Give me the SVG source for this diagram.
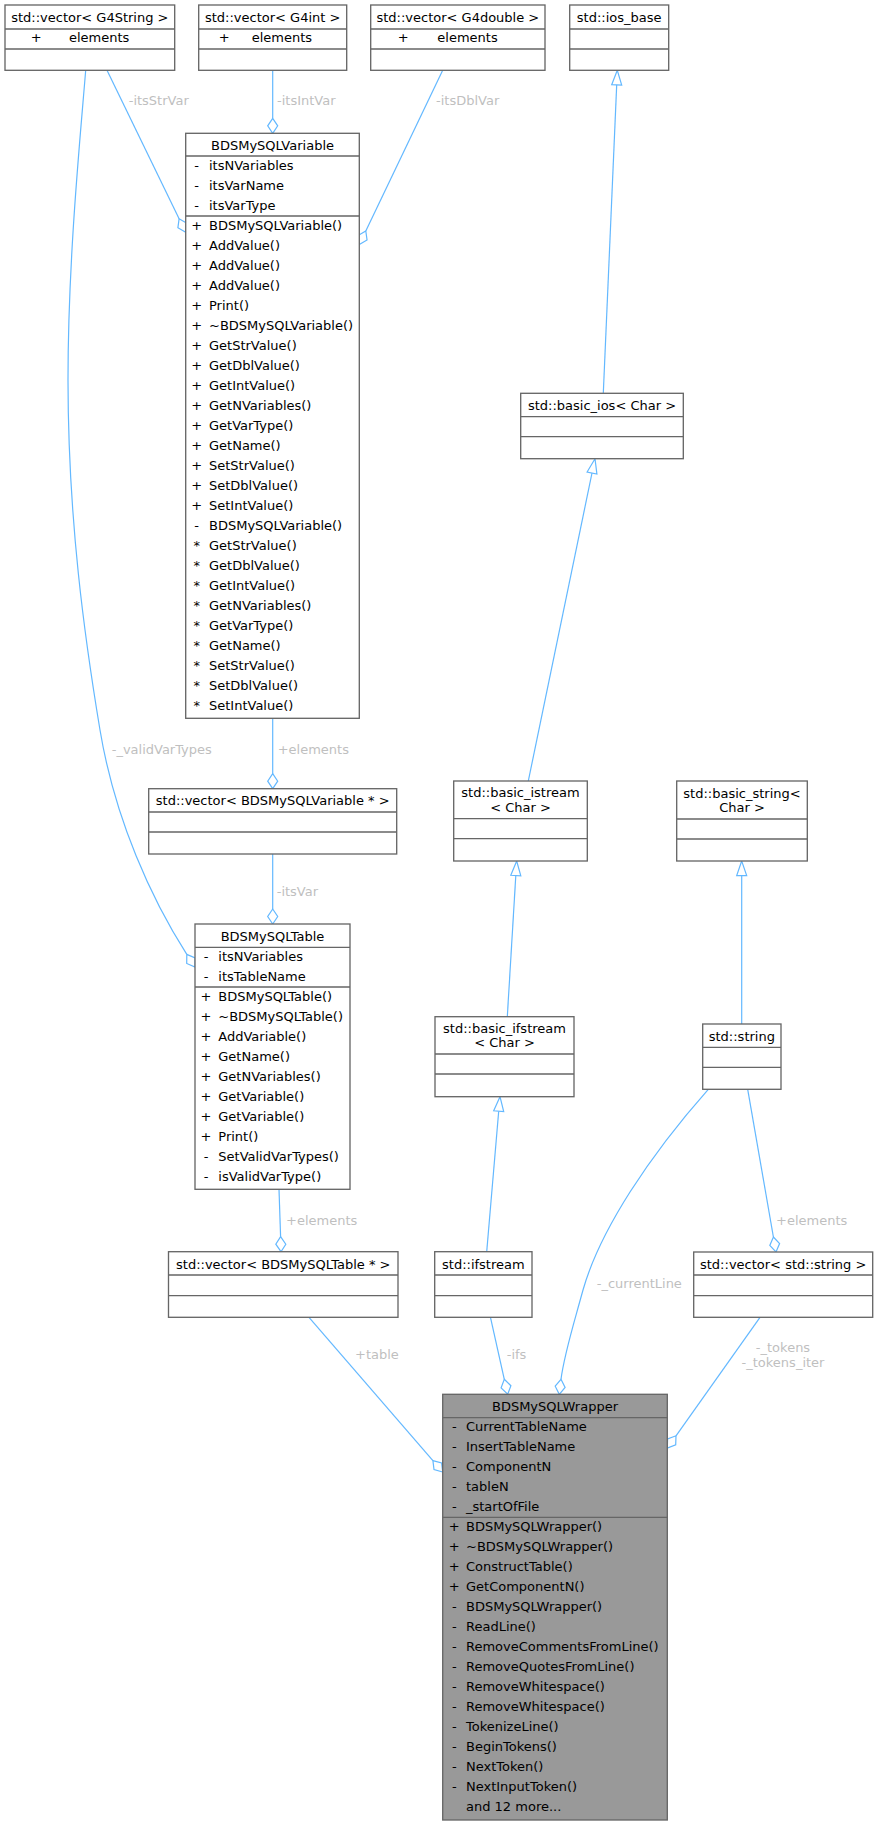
<svg xmlns="http://www.w3.org/2000/svg" width="878" height="1825" viewBox="0 0 878 1825">
<style>
text{font-family:"DejaVu Sans","Liberation Sans",sans-serif;font-size:13px;fill:#000}
.c{text-anchor:middle}
.m{text-anchor:middle}
.lbl{fill:#bfbfbf}
.box{fill:#fff;stroke:#666;stroke-width:1.33}
.main{fill:#999;stroke:#666;stroke-width:1.33}
.dv{stroke:#666;stroke-width:1.33;fill:none}
.edge{fill:none;stroke:#63b8ff;stroke-width:1.2}
.head{fill:#fff;stroke:#63b8ff;stroke-width:1.2}
</style>
<rect width="878" height="1825" fill="#fff"/>

<g id="connectors">
  <!-- inheritance -->
  <path class="edge" d="M616.7,84.9 L603.3,393.3"/>
  <polygon class="head" points="617.3,70.3 611.7,84.7 621.7,85.1"/>
  <path class="edge" d="M592,473 L528.3,781"/>
  <polygon class="head" points="595,458.7 596.9,474 587.1,472"/>
  <path class="edge" d="M515.8,875.6 L507.3,1016.7"/>
  <polygon class="head" points="516.7,861 510.8,875.3 520.8,875.9"/>
  <path class="edge" d="M498.7,1111.2 L486.7,1251.7"/>
  <polygon class="head" points="500,1096.7 493.7,1110.8 503.7,1111.6"/>
  <path class="edge" d="M741.7,875.6 L741.7,1024"/>
  <polygon class="head" points="741.7,861 736.7,875.6 746.7,875.6"/>

  <!-- aggregation -->
  <path class="edge" d="M272.7,70.3 L272.7,118.3"/>
  <polygon class="head" points="272.7,118.3 277.7,125.8 272.7,133.3 267.7,125.8"/>
  <path class="edge" d="M107,70.3 L179.1,218.8"/>
  <polygon class="head" points="179.1,218.8 186.9,223.35 185.7,232.3 177.9,227.75"/>
  <path class="edge" d="M442.7,70.3 L365.8,231"/>
  <polygon class="head" points="365.8,231 367.05,239.92 359.3,244.5 358.05,235.58"/>
  <path class="edge" d="M85.7,70.3 C80,140 68,260 68,380 C68,520 85,640 100,730 C115,820 152,900 186.8,954.4"/>
  <polygon class="head" points="186.8,954.4 195.09,957.97 195,967 186.71,963.43"/>
  <path class="edge" d="M272.7,718.3 L272.7,773.7"/>
  <polygon class="head" points="272.7,773.7 277.7,781.2 272.7,788.7 267.7,781.2"/>
  <path class="edge" d="M272.7,854 L272.7,909"/>
  <polygon class="head" points="272.7,909 277.7,916.5 272.7,924 267.7,916.5"/>
  <path class="edge" d="M279,1189.3 L280.6,1236.7"/>
  <polygon class="head" points="280.6,1236.7 285.8,1244.2 281,1251.7 275.8,1244.2"/>
  <path class="edge" d="M309,1317.3 L432.9,1460.6"/>
  <polygon class="head" points="432.9,1460.6 441.59,1463.04 442.7,1472 434.01,1469.56"/>
  <path class="edge" d="M490.3,1316.7 L504.3,1379.3"/>
  <polygon class="head" points="504.3,1379.3 510.9,1385.7 507.7,1394.3 501.1,1387.9"/>
  <path class="edge" d="M708.3,1089.3 C650,1155 600,1230 583,1290 C572,1330 564,1355 561,1379.3"/>
  <polygon class="head" points="561,1379.3 565.1,1387.4 559.3,1394.3 555.2,1386.2"/>
  <path class="edge" d="M747.7,1089.3 L773.4,1237"/>
  <polygon class="head" points="773.4,1237 779.6,1243.6 776,1252 769.8,1245.4"/>
  <path class="edge" d="M760,1317.3 L676,1435.8"/>
  <polygon class="head" points="676,1435.8 675.7,1444.8 667.3,1448 667.6,1439"/>

  <!-- labels -->
  <text class="lbl" x="128.7" y="104.5">-itsStrVar</text>
  <text class="lbl" x="277" y="104.5">-itsIntVar</text>
  <text class="lbl" x="436" y="104.5">-itsDblVar</text>
  <text class="lbl" x="111.7" y="753.5">-_validVarTypes</text>
  <text class="lbl" x="277.7" y="753.5">+elements</text>
  <text class="lbl" x="276.7" y="896.2">-itsVar</text>
  <text class="lbl" x="286" y="1224.5">+elements</text>
  <text class="lbl" x="355" y="1358.8">+table</text>
  <text class="lbl" x="506.7" y="1358.8">-ifs</text>
  <text class="lbl" x="596.7" y="1287.8">-_currentLine</text>
  <text class="lbl" x="776" y="1224.5">+elements</text>
  <text class="lbl c" x="783" y="1352.2">-_tokens</text>
  <text class="lbl c" x="783" y="1366.8">-_tokens_iter</text>
</g>

<g id="vec_G4String">
  <rect class="box" x="5" y="5" width="169.7" height="65.3"/>
  <path class="dv" d="M5,29 H174.7 M5,49 H174.7"/>
  <text class="c" x="89.85" y="21.8">std::vector&lt; G4String &gt;</text>
  <text class="m" x="36.3" y="42.2">+</text>
  <text x="69" y="42.2">elements</text>
</g>

<g id="vec_G4int">
  <rect class="box" x="198.7" y="5" width="148" height="65.3"/>
  <path class="dv" d="M198.7,29 H346.7 M198.7,49 H346.7"/>
  <text class="c" x="272.7" y="21.8">std::vector&lt; G4int &gt;</text>
  <text class="m" x="224.3" y="42.2">+</text>
  <text x="251.7" y="42.2">elements</text>
</g>

<g id="vec_G4double">
  <rect class="box" x="370.7" y="5" width="174.3" height="65.3"/>
  <path class="dv" d="M370.7,29 H545 M370.7,49 H545"/>
  <text class="c" x="457.85" y="21.8">std::vector&lt; G4double &gt;</text>
  <text class="m" x="403.3" y="42.2">+</text>
  <text x="437.3" y="42.2">elements</text>
</g>

<g id="ios_base">
  <rect class="box" x="569.7" y="5" width="99" height="65.3"/>
  <path class="dv" d="M569.7,29 H668.7 M569.7,49 H668.7"/>
  <text class="c" x="619.2" y="21.8">std::ios_base</text>
</g>

<g id="BDSMySQLVariable">
  <rect class="box" x="185.7" y="133.3" width="173.6" height="585"/>
  <path class="dv" d="M185.7,156 H359.3 M185.7,216 H359.3"/>
  <text class="c" x="272.5" y="150.2">BDSMySQLVariable</text>
  <g>
    <text class="m" x="196.7" y="170.2">-</text><text x="209" y="170.2">itsNVariables</text>
    <text class="m" x="196.7" y="190.2">-</text><text x="209" y="190.2">itsVarName</text>
    <text class="m" x="196.7" y="210.2">-</text><text x="209" y="210.2">itsVarType</text>
  </g>
  <g>
    <text class="m" x="196.7" y="230.2">+</text><text x="209" y="230.2">BDSMySQLVariable()</text>
    <text class="m" x="196.7" y="250.2">+</text><text x="209" y="250.2">AddValue()</text>
    <text class="m" x="196.7" y="270.2">+</text><text x="209" y="270.2">AddValue()</text>
    <text class="m" x="196.7" y="290.2">+</text><text x="209" y="290.2">AddValue()</text>
    <text class="m" x="196.7" y="310.2">+</text><text x="209" y="310.2">Print()</text>
    <text class="m" x="196.7" y="330.2">+</text><text x="209" y="330.2">~BDSMySQLVariable()</text>
    <text class="m" x="196.7" y="350.2">+</text><text x="209" y="350.2">GetStrValue()</text>
    <text class="m" x="196.7" y="370.2">+</text><text x="209" y="370.2">GetDblValue()</text>
    <text class="m" x="196.7" y="390.2">+</text><text x="209" y="390.2">GetIntValue()</text>
    <text class="m" x="196.7" y="410.2">+</text><text x="209" y="410.2">GetNVariables()</text>
    <text class="m" x="196.7" y="430.2">+</text><text x="209" y="430.2">GetVarType()</text>
    <text class="m" x="196.7" y="450.2">+</text><text x="209" y="450.2">GetName()</text>
    <text class="m" x="196.7" y="470.2">+</text><text x="209" y="470.2">SetStrValue()</text>
    <text class="m" x="196.7" y="490.2">+</text><text x="209" y="490.2">SetDblValue()</text>
    <text class="m" x="196.7" y="510.2">+</text><text x="209" y="510.2">SetIntValue()</text>
    <text class="m" x="196.7" y="530.2">-</text><text x="209" y="530.2">BDSMySQLVariable()</text>
    <text class="m" x="196.7" y="550.2">*</text><text x="209" y="550.2">GetStrValue()</text>
    <text class="m" x="196.7" y="570.2">*</text><text x="209" y="570.2">GetDblValue()</text>
    <text class="m" x="196.7" y="590.2">*</text><text x="209" y="590.2">GetIntValue()</text>
    <text class="m" x="196.7" y="610.2">*</text><text x="209" y="610.2">GetNVariables()</text>
    <text class="m" x="196.7" y="630.2">*</text><text x="209" y="630.2">GetVarType()</text>
    <text class="m" x="196.7" y="650.2">*</text><text x="209" y="650.2">GetName()</text>
    <text class="m" x="196.7" y="670.2">*</text><text x="209" y="670.2">SetStrValue()</text>
    <text class="m" x="196.7" y="690.2">*</text><text x="209" y="690.2">SetDblValue()</text>
    <text class="m" x="196.7" y="710.2">*</text><text x="209" y="710.2">SetIntValue()</text>
  </g>
</g>

<g id="vec_BDSMySQLVariable">
  <rect class="box" x="148.7" y="788.7" width="248" height="65.3"/>
  <path class="dv" d="M148.7,812 H396.7 M148.7,832 H396.7"/>
  <text class="c" x="272.7" y="804.8">std::vector&lt; BDSMySQLVariable * &gt;</text>
</g>

<g id="BDSMySQLTable">
  <rect class="box" x="195" y="924" width="155" height="265.3"/>
  <path class="dv" d="M195,947.3 H350 M195,987 H350"/>
  <text class="c" x="272.5" y="940.8">BDSMySQLTable</text>
  <text class="m" x="206" y="960.8">-</text><text x="218.3" y="960.8">itsNVariables</text>
  <text class="m" x="206" y="980.8">-</text><text x="218.3" y="980.8">itsTableName</text>
  <text class="m" x="206" y="1000.8">+</text><text x="218.3" y="1000.8">BDSMySQLTable()</text>
  <text class="m" x="206" y="1020.8">+</text><text x="218.3" y="1020.8">~BDSMySQLTable()</text>
  <text class="m" x="206" y="1040.8">+</text><text x="218.3" y="1040.8">AddVariable()</text>
  <text class="m" x="206" y="1060.8">+</text><text x="218.3" y="1060.8">GetName()</text>
  <text class="m" x="206" y="1080.8">+</text><text x="218.3" y="1080.8">GetNVariables()</text>
  <text class="m" x="206" y="1100.8">+</text><text x="218.3" y="1100.8">GetVariable()</text>
  <text class="m" x="206" y="1120.8">+</text><text x="218.3" y="1120.8">GetVariable()</text>
  <text class="m" x="206" y="1140.8">+</text><text x="218.3" y="1140.8">Print()</text>
  <text class="m" x="206" y="1160.8">-</text><text x="218.3" y="1160.8">SetValidVarTypes()</text>
  <text class="m" x="206" y="1180.8">-</text><text x="218.3" y="1180.8">isValidVarType()</text>
</g>

<g id="basic_ios">
  <rect class="box" x="520.7" y="393.3" width="162.6" height="65.4"/>
  <path class="dv" d="M520.7,416.7 H683.3 M520.7,436.7 H683.3"/>
  <text class="c" x="602" y="410.2">std::basic_ios&lt; Char &gt;</text>
</g>

<g id="basic_istream">
  <rect class="box" x="453.7" y="781" width="133.6" height="80"/>
  <path class="dv" d="M453.7,818.7 H587.3 M453.7,838.7 H587.3"/>
  <text class="c" x="520.5" y="797.2">std::basic_istream</text>
  <text class="c" x="520.5" y="811.8">&lt; Char &gt;</text>
</g>

<g id="basic_string">
  <rect class="box" x="676.7" y="781" width="130.6" height="80"/>
  <path class="dv" d="M676.7,819 H807.3 M676.7,839 H807.3"/>
  <text class="c" x="742" y="797.8">std::basic_string&lt;</text>
  <text class="c" x="742" y="812.2">Char &gt;</text>
</g>

<g id="basic_ifstream">
  <rect class="box" x="435" y="1016.7" width="139" height="80"/>
  <path class="dv" d="M435,1054 H574 M435,1074 H574"/>
  <text class="c" x="504.5" y="1032.8">std::basic_ifstream</text>
  <text class="c" x="504.5" y="1047.2">&lt; Char &gt;</text>
</g>

<g id="std_string">
  <rect class="box" x="702.7" y="1024" width="78.3" height="65.3"/>
  <path class="dv" d="M702.7,1047.3 H781 M702.7,1067.3 H781"/>
  <text class="c" x="741.85" y="1041.2">std::string</text>
</g>

<g id="vec_BDSMySQLTable">
  <rect class="box" x="168.5" y="1251.7" width="229.5" height="65.6"/>
  <path class="dv" d="M168.5,1275 H398 M168.5,1295.7 H398"/>
  <text class="c" x="283.25" y="1268.8">std::vector&lt; BDSMySQLTable * &gt;</text>
</g>

<g id="ifstream">
  <rect class="box" x="434.7" y="1251.7" width="97.3" height="65.6"/>
  <path class="dv" d="M434.7,1275 H532 M434.7,1295.7 H532"/>
  <text class="c" x="483.35" y="1268.8">std::ifstream</text>
</g>

<g id="vec_string">
  <rect class="box" x="693.7" y="1252" width="179" height="65.3"/>
  <path class="dv" d="M693.7,1275 H872.7 M693.7,1295.7 H872.7"/>
  <text class="c" x="783.2" y="1268.8">std::vector&lt; std::string &gt;</text>
</g>

<g id="BDSMySQLWrapper">
  <rect class="main" x="442.7" y="1394.3" width="224.6" height="425.7"/>
  <path class="dv" d="M442.7,1417.7 H667.3 M442.7,1517.3 H667.3"/>
  <text class="c" x="555" y="1411.2">BDSMySQLWrapper</text>
  <text class="m" x="454.3" y="1431.2">-</text><text x="466" y="1431.2">CurrentTableName</text>
  <text class="m" x="454.3" y="1451.2">-</text><text x="466" y="1451.2">InsertTableName</text>
  <text class="m" x="454.3" y="1471.2">-</text><text x="466" y="1471.2">ComponentN</text>
  <text class="m" x="454.3" y="1491.2">-</text><text x="466" y="1491.2">tableN</text>
  <text class="m" x="454.3" y="1511.2">-</text><text x="466" y="1511.2">_startOfFile</text>
  <text class="m" x="454.3" y="1531.2">+</text><text x="466" y="1531.2">BDSMySQLWrapper()</text>
  <text class="m" x="454.3" y="1551.2">+</text><text x="466" y="1551.2">~BDSMySQLWrapper()</text>
  <text class="m" x="454.3" y="1571.2">+</text><text x="466" y="1571.2">ConstructTable()</text>
  <text class="m" x="454.3" y="1591.2">+</text><text x="466" y="1591.2">GetComponentN()</text>
  <text class="m" x="454.3" y="1611.2">-</text><text x="466" y="1611.2">BDSMySQLWrapper()</text>
  <text class="m" x="454.3" y="1631.2">-</text><text x="466" y="1631.2">ReadLine()</text>
  <text class="m" x="454.3" y="1651.2">-</text><text x="466" y="1651.2">RemoveCommentsFromLine()</text>
  <text class="m" x="454.3" y="1671.2">-</text><text x="466" y="1671.2">RemoveQuotesFromLine()</text>
  <text class="m" x="454.3" y="1691.2">-</text><text x="466" y="1691.2">RemoveWhitespace()</text>
  <text class="m" x="454.3" y="1711.2">-</text><text x="466" y="1711.2">RemoveWhitespace()</text>
  <text class="m" x="454.3" y="1731.2">-</text><text x="466" y="1731.2">TokenizeLine()</text>
  <text class="m" x="454.3" y="1751.2">-</text><text x="466" y="1751.2">BeginTokens()</text>
  <text class="m" x="454.3" y="1771.2">-</text><text x="466" y="1771.2">NextToken()</text>
  <text class="m" x="454.3" y="1791.2">-</text><text x="466" y="1791.2">NextInputToken()</text>
  <text x="466" y="1811.2">and 12 more...</text>
</g>
</svg>
